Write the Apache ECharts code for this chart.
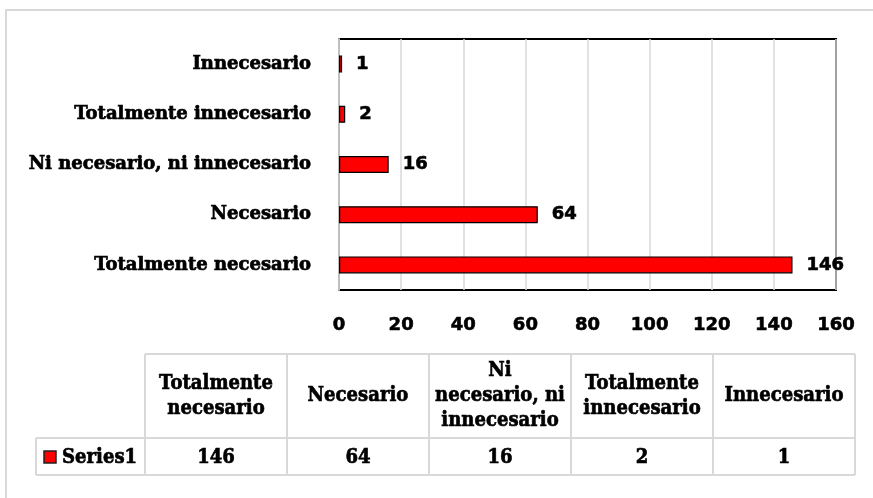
<!DOCTYPE html>
<html><head><meta charset="utf-8">
<script src="https://cdn.jsdelivr.net/npm/echarts@6/dist/echarts.min.js"></script>
<style>html,body{margin:0;padding:0;background:#fff}#c{width:873px;height:498px}</style>
</head><body><div id="c"></div>
<script>
const categories = ['Totalmente necesario', 'Necesario', 'Ni necesario, ni innecesario', 'Totalmente innecesario', 'Innecesario'];
const tableHeaders = ['Totalmente\nnecesario', 'Necesario', 'Ni\nnecesario, ni\ninnecesario', 'Totalmente\ninnecesario', 'Innecesario'];
const seriesName = 'Series1';
const values = [146, 64, 16, 2, 1];
const xMin = 0, xMax = 160, xStep = 20;

const chart = echarts.init(document.getElementById('c'), null, {renderer: 'canvas'});
const serif = 'DejaVu Serif';
const sans = 'DejaVu Sans';
const gridLeft = 339, gridRight = 37, gridTop = 39, gridBottom = 208;

// table layout
const tX0 = 145, colW = 142, legendX = 36;
const rowTop = 354, rowMid = 438, rowBot = 475;
const lineColor = '#D9D9D9';
const g = [];
g.push({type: 'rect', shape: {x: 6, y: 10, width: 900, height: 520}, style: {fill: 'none', stroke: lineColor, lineWidth: 2}, silent: true});
g.push({type: 'line', shape: {x1: tX0, y1: rowTop, x2: tX0 + colW * 5, y2: rowTop}, style: {stroke: lineColor, lineWidth: 2}});
g.push({type: 'line', shape: {x1: legendX, y1: rowMid, x2: tX0 + colW * 5, y2: rowMid}, style: {stroke: lineColor, lineWidth: 2}});
g.push({type: 'line', shape: {x1: legendX, y1: rowBot, x2: tX0 + colW * 5, y2: rowBot}, style: {stroke: lineColor, lineWidth: 2}});
g.push({type: 'line', shape: {x1: legendX, y1: rowMid, x2: legendX, y2: rowBot}, style: {stroke: lineColor, lineWidth: 2}});
for (let i = 0; i <= categories.length; i++) {
  g.push({type: 'line', shape: {x1: tX0 + colW * i, y1: rowTop, x2: tX0 + colW * i, y2: rowBot}, style: {stroke: lineColor, lineWidth: 2}});
}
const cond = 0.86;
const tFont = 'bold 21px "' + serif + '"';
const heavy = {stroke: '#000', lineWidth: 0.7};
tableHeaders.forEach((h, i) => {
  g.push({type: 'text', x: tX0 + colW * (i + 0.5), y: (rowTop + rowMid) / 2, scaleX: cond,
    style: Object.assign({text: h, font: tFont, fill: '#000', textAlign: 'center', textVerticalAlign: 'middle', lineHeight: 25}, heavy)});
});
values.forEach((v, i) => {
  g.push({type: 'text', x: tX0 + colW * (i + 0.5), y: (rowMid + rowBot) / 2 + 1, scaleX: cond,
    style: Object.assign({text: String(v), font: tFont, fill: '#000', textAlign: 'center', textVerticalAlign: 'middle'}, heavy)});
});
g.push({type: 'rect', shape: {x: 44, y: 451, width: 12, height: 12}, style: {fill: '#FF0000', stroke: '#222', lineWidth: 1.5}});
g.push({type: 'text', x: 62, y: (rowMid + rowBot) / 2 + 1, scaleX: cond,
  style: Object.assign({text: seriesName, font: tFont, fill: '#000', textAlign: 'left', textVerticalAlign: 'middle'}, heavy)});

chart.setOption({
  animation: false,
  backgroundColor: '#fff',
  grid: {left: gridLeft, right: gridRight, top: gridTop, bottom: gridBottom, show: true, borderColor: '#000', borderWidth: 2, containLabel: false},
  xAxis: {
    type: 'value', min: xMin, max: xMax, interval: xStep,
    axisLine: {show: false}, axisTick: {show: false},
    splitLine: {show: true, lineStyle: {color: '#D9D9D9', width: 1.5}},
    axisLabel: {color: '#000', fontFamily: sans, fontWeight: 'bold', fontSize: 18, margin: 26, textBorderColor: '#000', textBorderWidth: 0.6}
  },
  yAxis: {
    type: 'category', data: categories,
    axisLine: {show: true, lineStyle: {color: '#BFBFBF', width: 2}}, axisTick: {show: false},
    axisLabel: {color: '#000', fontFamily: serif, fontWeight: 'bold', fontSize: 18, margin: 28, textBorderColor: '#000', textBorderWidth: 0.7}
  },
  series: [{
    name: seriesName, type: 'bar', data: values, barWidth: 17, z: 3,
    itemStyle: {color: '#FF0000', borderColor: '#000', borderWidth: 1.2},
    label: {show: true, position: 'right', distance: 14, color: '#000', fontFamily: sans, fontWeight: 'bold', fontSize: 18, textBorderColor: '#000', textBorderWidth: 0.6}
  }],
  graphic: g
});
</script></body></html>
